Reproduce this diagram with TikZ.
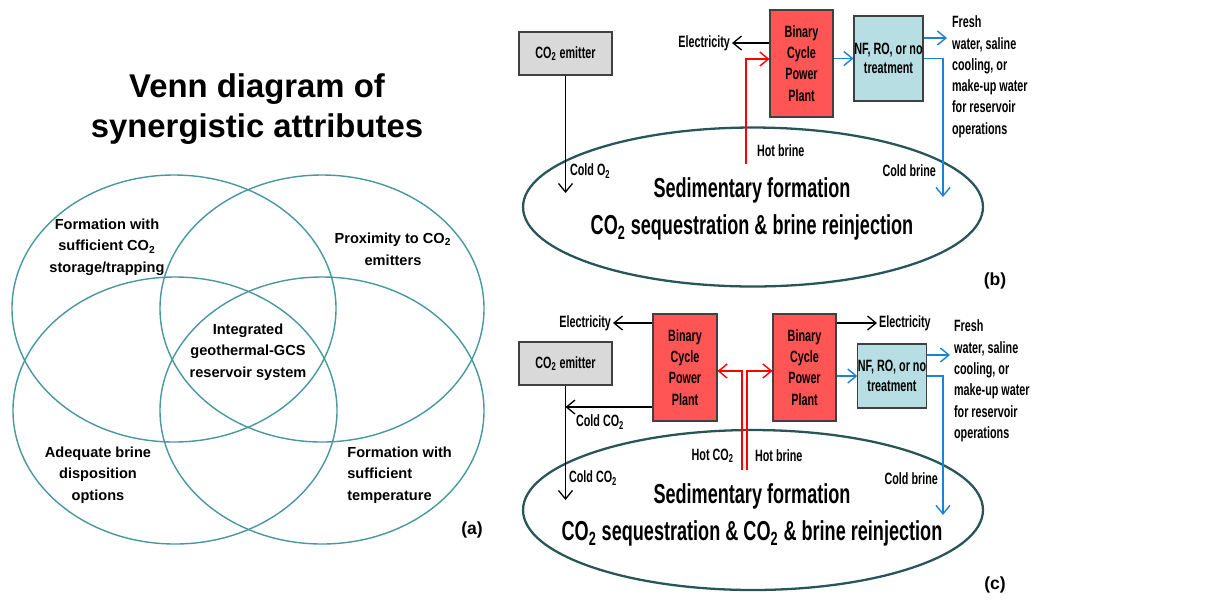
\documentclass[tikz,border=0pt]{standalone}
\usepackage{fontspec}
\setmainfont{Liberation Sans}
\newfontfamily\narrowfont{Liberation Sans}[FakeStretch=0.66]
\usepackage{tikz}
\usetikzlibrary{positioning,shapes.geometric,arrows.meta}
\definecolor{venn}{RGB}{72,152,158}
\definecolor{plant}{RGB}{255,85,85}
\definecolor{treat}{RGB}{183,222,226}
\definecolor{emit}{RGB}{217,217,217}
\definecolor{form}{RGB}{40,85,88}
\definecolor{flow}{RGB}{30,130,210}
\newcommand{\cotwo}{CO\textsubscript{2}}

\begin{document}
\begin{tikzpicture}[x=0.02cm,y=-0.02cm,>={Straight Barb[length=1.7mm,width=2.8mm]},
    vtxt/.style={font=\bfseries\fontsize{8.3}{12.3}\selectfont,align=center,inner sep=0pt},
    lbl/.style={font=\narrowfont\bfseries\fontsize{9.3}{12.1}\selectfont,inner sep=1pt},
    box/.style={lbl,draw=black!75,line width=0.6pt,align=center,inner sep=0pt},
    formation/.style={ellipse,draw=form,line width=1.3pt,minimum width=9.2cm,minimum height=3.18cm},
    big/.style={align=center,inner sep=0pt,font=\narrowfont\bfseries\fontsize{15.6}{21}\selectfont},
    line/.style={->,line width=0.75pt},
    hot/.style={->,red,line width=0.8pt},
    cool/.style={->,flow,line width=0.8pt},
    tag/.style={font=\bfseries\fontsize{10}{12}\selectfont}]
  \useasboundingbox (0,0) rectangle (1213,600);

  % (a)
  \node[font=\bfseries\fontsize{18.7}{22.7}\selectfont,align=center](title) at (257,109){Venn diagram of\\synergistic attributes};
  \draw[venn,line width=0.8pt] (174,308.5) ellipse [x radius=162,y radius=133.5];
  \draw[venn,line width=0.8pt] (322,308.5) ellipse [x radius=162,y radius=133.5];
  \draw[venn,line width=0.8pt] (175,410.5) ellipse [x radius=162,y radius=133.5];
  \draw[venn,line width=0.8pt] (322,410.5) ellipse [x radius=162,y radius=133.5];
  \node[vtxt](storage) at (107,247){Formation with\\sufficient \cotwo\\storage/trapping};
  \node[vtxt](proximity) at (393,249){Proximity to \cotwo\\emitters};
  \node[vtxt](integrated) at (248,352){Integrated\\geothermal-GCS\\reservoir system};
  \node[vtxt](disposal) at (98,475){Adequate brine\\disposition\\options};
  \node[vtxt,align=left,anchor=west](temperature) at (347,475){Formation with\\sufficient\\temperature};
  \node[tag](a) at (472,530){(a)};

  % (b)
  \node[box,fill=emit,minimum width=1.86cm,minimum height=0.86cm](emitB) at (565.5,53.5){\cotwo{} emitter};
  \node[box,fill=plant,minimum width=1.26cm,minimum height=2.14cm](binB) at (801.5,63.5){Binary\\Cycle\\Power\\Plant};
  \node[box,fill=treat,minimum width=1.38cm,minimum height=1.7cm,font=\narrowfont\bfseries\fontsize{9.3}{11.2}\selectfont](nfB) at (888.5,58.5){NF, RO, or no\\treatment};
  \node[formation](formB) at (753,207){};
  \node[big](seqB) at (752,209){Sedimentary formation\\\cotwo{} sequestration \& brine reinjection};
  \node[lbl,anchor=east](elecB) at (732,43){Electricity};
  \node[lbl,anchor=north west,align=left](freshB) at (950,14){Fresh\\water, saline\\cooling, or\\make-up water\\for reservoir\\operations};
  \node[lbl,anchor=west](coldB) at (568,171){Cold O\textsubscript{2}};
  \node[lbl,anchor=west](hotB) at (755,151){Hot brine};
  \node[lbl,anchor=east](brineB) at (938,171){Cold brine};
  \node[tag](b) at (995,281){(b)};
  \coordinate (downB) at (565.5,193);
  \coordinate (wellB) at (746,164);
  \coordinate (outB) at (947,38);
  \coordinate (injB) at (943,197);
  \draw[line] (binB.west |- elecB) -- (elecB.east);
  \draw[line] (emitB) -- (downB);
  \draw[hot] (wellB) |- ([yshift=0.09cm]binB.west);
  \draw[cool] (binB.east |- nfB.west) -- (nfB.west);
  \draw[cool] (nfB.east |- outB) -- (outB);
  \draw[cool] (nfB.east) -| (injB);

  % (c)
  \node[box,fill=emit,minimum width=1.86cm,minimum height=0.86cm](emitC) at (565.5,363.5){\cotwo{} emitter};
  \node[box,fill=plant,minimum width=1.28cm,minimum height=2.14cm](binL) at (685,367.5){Binary\\Cycle\\Power\\Plant};
  \node[box,fill=plant,minimum width=1.26cm,minimum height=2.14cm](binR) at (804.5,367.5){Binary\\Cycle\\Power\\Plant};
  \node[box,fill=treat,minimum width=1.36cm,minimum height=1.28cm,font=\narrowfont\bfseries\fontsize{9.3}{11.2}\selectfont](nfC) at (892,376){NF, RO, or no\\treatment};
  \node[formation,minimum height=3.2cm](formC) at (753,510){};
  \node[big](seqC) at (752,515){Sedimentary formation\\\cotwo{} sequestration \& \cotwo{} \& brine reinjection};
  \node[lbl,anchor=east](elecL) at (613,323){Electricity};
  \node[lbl,anchor=west](elecR) at (877,323){Electricity};
  \node[lbl,anchor=north west,align=left](freshC) at (952,318){Fresh\\water, saline\\cooling, or\\make-up water\\for reservoir\\operations};
  \node[lbl,anchor=west](backC) at (574,422){Cold \cotwo};
  \node[lbl,anchor=west](coldC) at (567,478){Cold \cotwo};
  \node[lbl,anchor=east](hotCO) at (736,456){Hot \cotwo};
  \node[lbl,anchor=west](hotC) at (753,456){Hot brine};
  \node[lbl,anchor=east](brineC) at (940,479){Cold brine};
  \node[tag](c) at (995,585){(c)};
  \coordinate (retC) at (565.5,407);
  \coordinate (downC) at (565.5,500);
  \coordinate (wellCO) at (742,470);
  \coordinate (wellC) at (747,470);
  \coordinate (outC) at (950,355);
  \coordinate (injC) at (943,515);
  \draw[line] (binL.west |- elecL) -- (elecL.east);
  \draw[line] (binR.east |- elecR) -- (elecR.west);
  \draw[line] (binL.west |- retC) -- (retC);
  \draw[line] (emitC) -- (downC);
  \draw[hot] (wellCO) |- ([yshift=-0.07cm]binL.east);
  \draw[hot] (wellC) |- ([yshift=-0.07cm]binR.west);
  \draw[cool] (binR.east |- nfC.west) -- (nfC.west);
  \draw[cool] (nfC.east |- outC) -- (outC);
  \draw[cool] (nfC.east) -| (injC);
\end{tikzpicture}
\end{document}
